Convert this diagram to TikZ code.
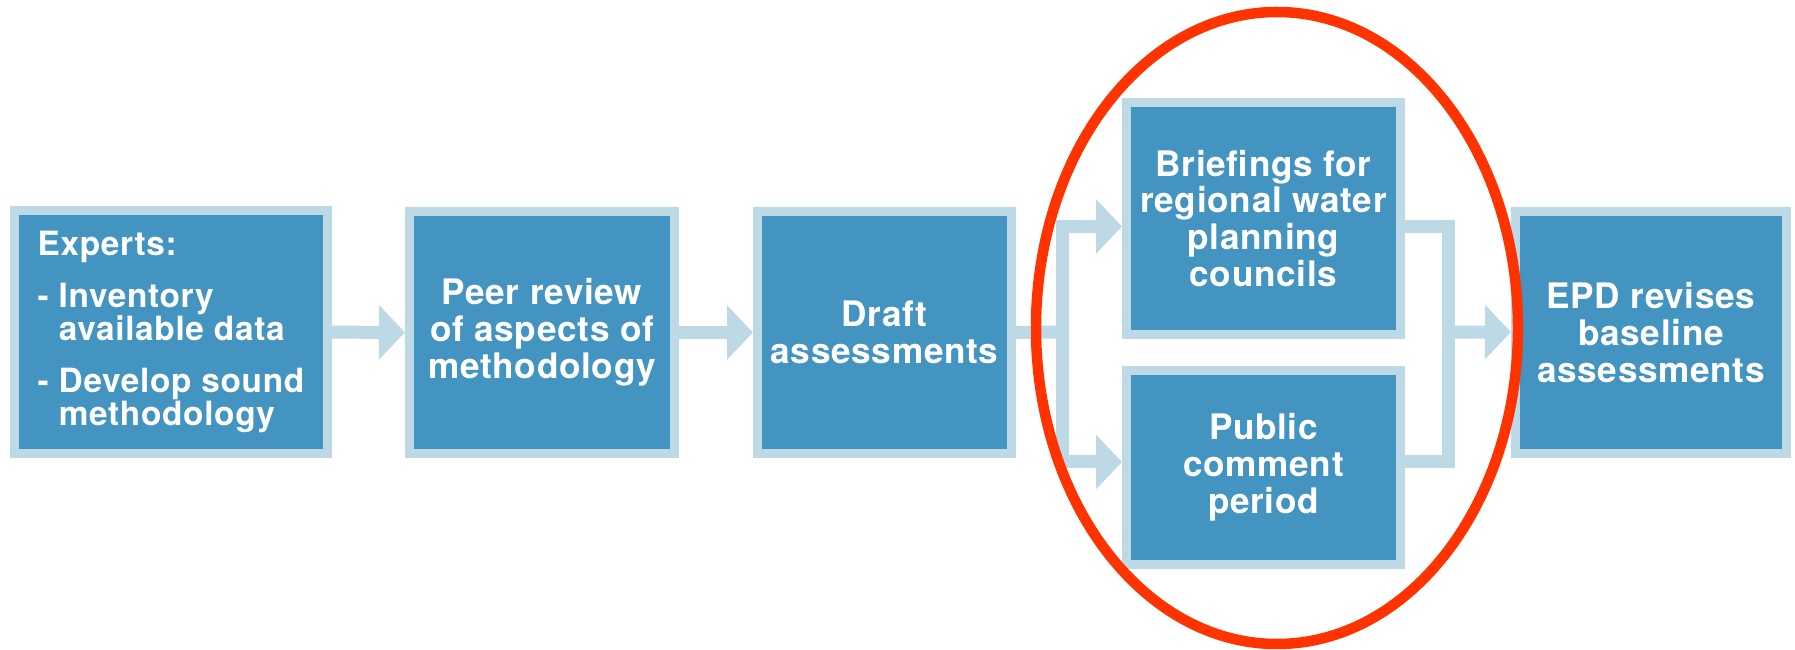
\documentclass[tikz,border=0pt]{standalone}
\usepackage{fontspec}
\setmainfont[LetterSpace=2]{TeX Gyre Heros}
\usetikzlibrary{arrows.meta}
\definecolor{boxblue}{HTML}{4394C1}
\definecolor{pale}{HTML}{BDD9E5}
\definecolor{ringred}{HTML}{FF3300}

\begin{document}
\begin{tikzpicture}[x=1.0cm,y=1.0cm,
        stage/.style={draw=pale, line width=0.09cm, fill=boxblue, text=white, inner sep=0pt,
            align=center, font=\fontsize{10}{10.5}\selectfont\bfseries},
        pipe/.style={draw=pale, line width=0.13cm},
        flow/.style={pipe, -{Triangle[width=0.53cm,length=0.26cm]}}]
        \useasboundingbox (0,0) rectangle (17.95,-6.5);
        \node[stage, minimum width=3.13cm, minimum height=2.43cm, align=left,
            font={\fontsize{9.5}{9.4}\selectfont\bfseries\lineskiplimit -5pt\relax}] (expert) at (1.71,-3.32)
            {Experts:\\[5.5pt] -~Inventory\\ \phantom{-~}available data\\[5.5pt] -~Develop sound\\ \phantom{-~}methodology};   %1
        \node[stage, minimum width=2.65cm, minimum height=2.42cm] (peer) at (5.42,-3.325)
            {Peer review\\of aspects of\\methodology};   %2
        \node[stage, minimum width=2.54cm, minimum height=2.42cm] (draft) at (8.845,-3.325)
            {Draft\\assessments};   %3
        \node[stage, minimum width=2.74cm, minimum height=2.32cm] (brief) at (12.635,-2.185)
            {Briefings for\\regional water\\planning\\councils};   %4a
        \node[stage, minimum width=2.74cm, minimum height=1.94cm] (public) at (12.635,-4.675)
            {Public\\comment\\period};   %4b
        \node[stage, minimum width=2.71cm, minimum height=2.42cm] (epd) at (16.51,-3.325)
            {EPD revises\\baseline\\assessments};   %5
        \coordinate (split) at (10.62,-3.32);
        \coordinate (join) at (14.485,-3.32);
        \draw[flow] (expert) -- (peer);   %12
        \draw[flow] (peer) -- (draft);    %23
        \draw[pipe] (draft.east) -- (split);
        \draw[flow] (split) |- ([yshift=-0.08cm]brief.west);
        \draw[flow] (split) |- ([yshift=0.055cm]public.west);
        \draw[pipe] ([yshift=-0.08cm]brief.east) -| (join);
        \draw[pipe] ([yshift=0.055cm]public.east) -| (join);
        \draw[flow] (join) -- (epd);      %45
        \draw[ringred, line width=0.105cm] (12.77,-3.28) ellipse (2.41 and 3.16);
\end{tikzpicture}
\end{document}
